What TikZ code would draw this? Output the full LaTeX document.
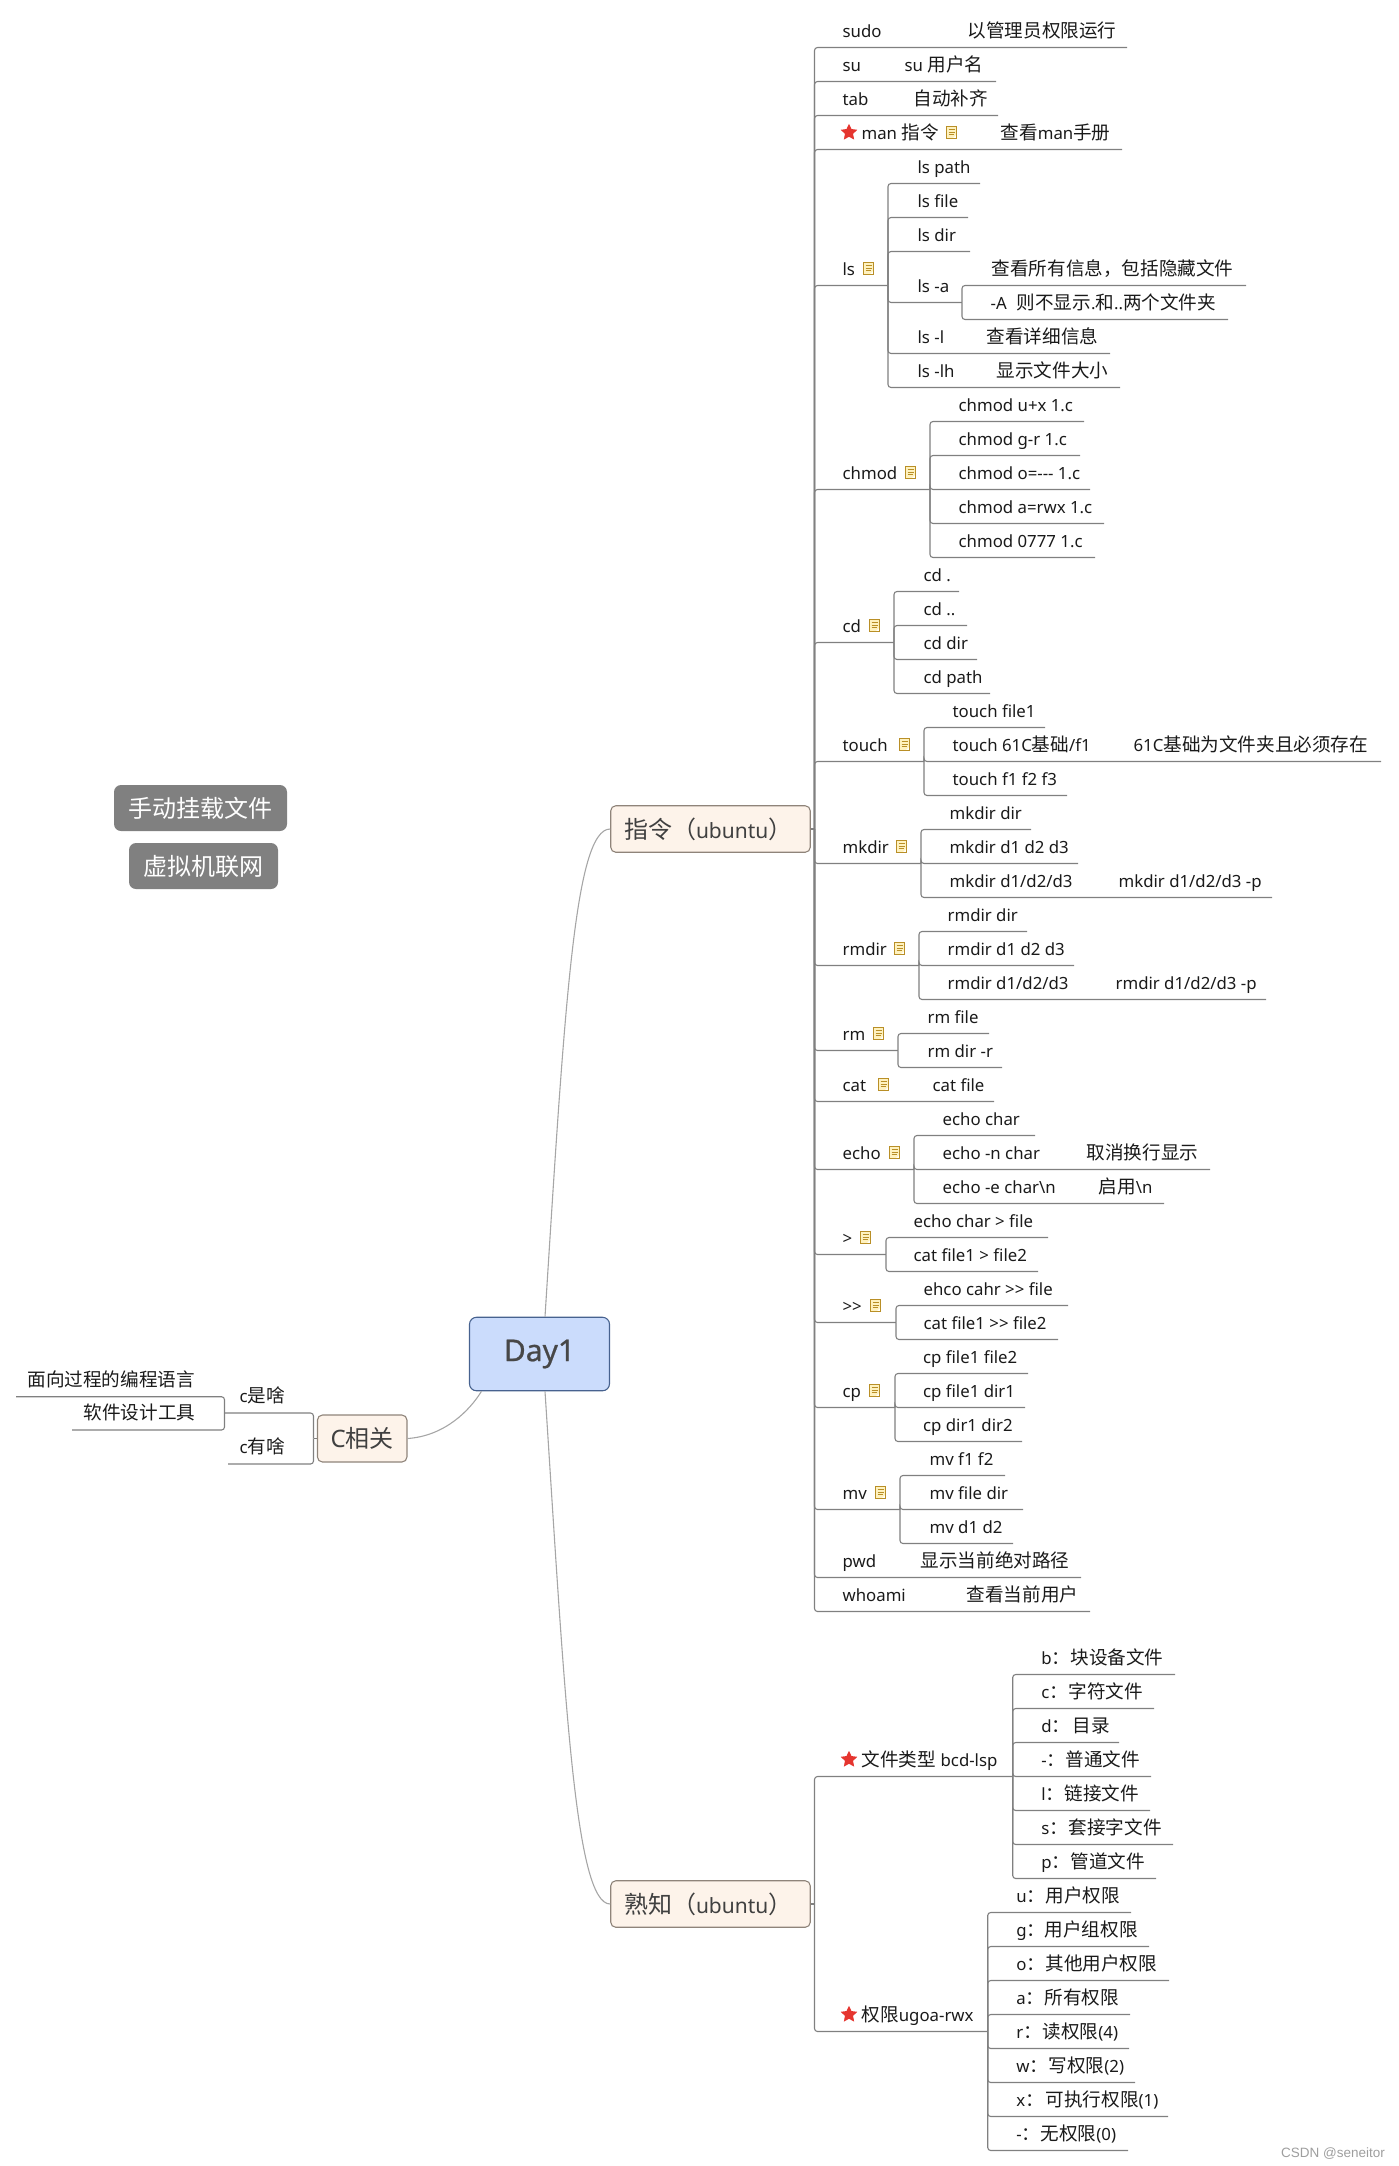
\documentclass[tikz,border=0pt]{standalone}
\usepackage{fontspec}
\usetikzlibrary{shapes.geometric}
\setmainfont{Noto Sans}
\newfontfamily\cjf{Noto Sans CJK SC}
\newfontfamily\wmf{Liberation Sans}
\newfontfamily\dayf[FakeBold=0.7]{Noto Sans}
\newcommand\cj[1]{{\cjf\fontsize{18.6}{20}\selectfont #1}}
\newcommand\cjB[1]{{\cjf\fontsize{24}{26}\selectfont #1}}
\newcommand\tb[2]{\makebox[#1pt][l]{#2}}
\definecolor{lineg}{HTML}{808080}
\definecolor{curveg}{HTML}{A6A6A6}
\definecolor{txt}{HTML}{1A1A1A}
\definecolor{dayfill}{HTML}{CBDCFC}
\definecolor{dayedge}{HTML}{47628F}
\definecolor{mainfill}{HTML}{FDF3EA}
\definecolor{mainedge}{HTML}{8F847A}
\definecolor{noteedge}{HTML}{B98F27}
\definecolor{notefill}{HTML}{FFF2BF}
\definecolor{starred}{HTML}{E5352F}
\tikzset{
  conn/.style={draw=lineg,line width=1.1pt,rounded corners=3pt},
  curveln/.style={draw=curveg,line width=1.1pt},
  lbl/.style={anchor=base west,inner sep=0pt,outer sep=0pt,text=txt,font=\fontsize{16.8}{20}\selectfont},
  central/.style={draw=dayedge,fill=dayfill,rounded corners=7pt,line width=1.1pt,inner sep=0pt,text=black!72,font=\dayf\fontsize{30}{32}\selectfont},
  mainb/.style={draw=mainedge,fill=mainfill,rounded corners=5pt,line width=1.1pt,inner sep=0pt,text=black!75,font=\fontsize{21}{26}\selectfont},
  floatb/.style={fill=black!50,rounded corners=7pt,inner sep=0pt,text=white},
  starn/.style={star,star points=5,star point ratio=2.05,fill=starred,minimum size=17.5pt,inner sep=0pt},
  noteic/.style={draw=noteedge,fill=notefill,line width=1.4pt,minimum width=10pt,minimum height=12pt,inner sep=0pt,
    path picture={
      \draw[noteedge,line width=1pt]
        ([xshift=2pt,yshift=-3pt]path picture bounding box.north west) -- ([xshift=-2pt,yshift=-3pt]path picture bounding box.north east)
        ([xshift=2pt,yshift=-5.5pt]path picture bounding box.north west) -- ([xshift=-2pt,yshift=-5.5pt]path picture bounding box.north east)
        ([xshift=2pt,yshift=-8pt]path picture bounding box.north west) -- ([xshift=-3pt,yshift=-8pt]path picture bounding box.north east);
      \fill[white] (path picture bounding box.south east) -- ([xshift=-4pt]path picture bounding box.south east) -- ([yshift=4pt]path picture bounding box.south east) -- cycle;
    }},
}
% parent, name, x of text, y of line, x of line end, text
\newcommand\ch[6]{%
  \node[lbl] (#2) at (#3+0.6,#4-10.4) {#6};
  \coordinate (#2-e) at (#5,#4);
  \draw[conn] (#1-e) |- (#2-e);}
\newcommand\ic[3]{\node[noteic] (#1-note) at (#2+5.5,#3-17) {};}
\newcommand\st[2]{\node[starn] (#1-star) at (849,#2-17) {};}
\begin{document}
\begin{tikzpicture}[x=1pt,y=-1pt]
\useasboundingbox (0,0) rectangle (1398,2166);
% main nodes
\node[central,minimum width=140pt,minimum height=73.5pt] (day) at (539.5,1354) {Day1};
\node[mainb,minimum width=199.5pt,minimum height=46.5pt] (zl) at (710.5,829) {\makebox[173pt][l]{\cjB{指令（}ubuntu\cjB{）}}};
\node[mainb,minimum width=199.5pt,minimum height=46.5pt] (sz) at (710.5,1904) {\makebox[173pt][l]{\cjB{熟知（}ubuntu\cjB{）}}};
\node[mainb,minimum width=89.5pt,minimum height=47pt] (cx) at (362.2,1438.5) {\fontsize{24}{26}\selectfont C\cjB{相关}};
\node[floatb,minimum width=173pt,minimum height=46pt] (f1) at (200.5,808) {\cjB{手动挂载文件}};
\node[floatb,minimum width=149pt,minimum height=46pt] (f2) at (203.5,866) {\cjB{虚拟机联网}};
% curves
\draw[curveln] ([xshift=5.5pt]day.north) .. controls (565,1000) and (575,829) .. (zl.west);
\draw[curveln] ([xshift=5.5pt]day.south) .. controls (565,1700) and (575,1904) .. (sz.west);
\draw[curveln] (cx.east) .. controls (445,1436) and (470,1410) .. ([xshift=12.5pt]day.south west);
% C side
\coordinate (c-e) at (313.5,1438.5);
\draw[conn] (cx.west) -- (c-e);
\ch{c}{cs}{239}{1413}{224.5}{c\cj{是啥}}
\ch{c}{cy}{239}{1464}{228}{c\cj{有啥}}
\ch{cs}{cs1}{27}{1396.7}{16}{\cj{面向过程的编程语言}}
\ch{cs}{cs2}{83}{1430}{72}{\cj{软件设计工具}}
% tree 1
\coordinate (zl-e) at (814.5,829);
\draw[conn] (zl.east) -- (zl-e);
\ch{zl}{sudo}{842}{47.5}{1127}{\tb{125}{sudo}\cj{以管理员权限运行}}
\ch{zl}{su}{842}{81.5}{996}{\tb{62}{su}su \cj{用户名}}
\ch{zl}{tab}{842}{115.5}{998}{\tb{71}{tab}\cj{自动补齐}}
\st{man}{149.5}
\ch{zl}{man}{861}{149.5}{1122}{\tb{139}{\tb{40}{man}\cj{指令}}\cj{查看}man\cj{手册}}
\ic{man}{946}{149.5}
\ch{zl}{ls}{842}{285.5}{888}{ls}
\ic{ls}{863}{285.5}
\ch{ls}{ls1}{917}{183.5}{980}{ls path}
\ch{ls}{ls2}{917}{217.5}{968}{ls file}
\ch{ls}{ls3}{917}{251.5}{970}{ls dir}
\ch{ls}{lsa}{917}{302.5}{962}{ls -a}
\ch{lsa}{lsa1}{991}{285.5}{1246}{\cj{查看所有信息，包括隐藏文件}}
\ch{lsa}{lsa2}{990}{319.5}{1228}{\tb{26}{-A}\cj{则不显示}.\cj{和}..\cj{两个文件夹}}
\ch{ls}{lsl}{917}{353.5}{1110}{\tb{69}{ls -l}\cj{查看详细信息}}
\ch{ls}{lslh}{917}{387.5}{1120}{\tb{79}{ls -lh}\cj{显示文件大小}}
\ch{zl}{chm}{842}{489.5}{930}{chmod}
\ic{chm}{905}{489.5}
\ch{chm}{chm1}{958}{421.5}{1084}{chmod u+x 1.c}
\ch{chm}{chm2}{958}{455.5}{1080}{chmod g-r 1.c}
\ch{chm}{chm3}{958}{489.5}{1090}{chmod o=-\kern0pt-\kern0pt- 1.c}
\ch{chm}{chm4}{958}{523.5}{1104}{chmod a=rwx 1.c}
\ch{chm}{chm5}{958}{557.5}{1095}{chmod 0777 1.c}
\ch{zl}{cd}{842}{642.5}{894}{cd}
\ic{cd}{869}{642.5}
\ch{cd}{cd1}{923}{591.5}{959}{cd .}
\ch{cd}{cd2}{923}{625.5}{967}{cd ..}
\ch{cd}{cd3}{923}{659.5}{977}{cd dir}
\ch{cd}{cd4}{923}{693.5}{990}{cd path}
\ch{zl}{tch}{842}{761.5}{924}{touch}
\ic{tch}{899}{761.5}
\ch{tch}{tch1}{952}{727.5}{1045}{touch file1}
\ch{tch}{tch2}{952}{761.5}{1381}{\tb{181}{touch 61C\cj{基础}/f1}61C\cj{基础为文件夹且必须存在}}
\ch{tch}{tch3}{952}{795.5}{1067}{touch f1 f2 f3}
\ch{zl}{mkd}{842}{863.5}{921}{mkdir}
\ic{mkd}{896}{863.5}
\ch{mkd}{mkd1}{949}{829.5}{1031}{mkdir dir}
\ch{mkd}{mkd2}{949}{863.5}{1078}{mkdir d1 d2 d3}
\ch{mkd}{mkd3}{949}{897.5}{1272}{\tb{169}{mkdir d1/d2/d3}mkdir d1/d2/d3 -p}
\ch{zl}{rmd}{842}{965.5}{919}{rmdir}
\ic{rmd}{894}{965.5}
\ch{rmd}{rmd1}{947}{931.5}{1027}{rmdir dir}
\ch{rmd}{rmd2}{947}{965.5}{1074}{rmdir d1 d2 d3}
\ch{rmd}{rmd3}{947}{999.5}{1266}{\tb{168}{rmdir d1/d2/d3}rmdir d1/d2/d3 -p}
\ch{zl}{rm}{842}{1050.5}{898}{rm}
\ic{rm}{873}{1050.5}
\ch{rm}{rm1}{927}{1033.5}{989}{rm file}
\ch{rm}{rm2}{927}{1067.5}{1002}{rm dir -r}
\ch{zl}{cat}{842}{1101.5}{994}{\tb{90}{cat}cat file}
\ic{cat}{878}{1101.5}
\ch{zl}{ech}{842}{1169.5}{914}{echo}
\ic{ech}{889}{1169.5}
\ch{ech}{ech1}{942}{1135.5}{1035}{echo char}
\ch{ech}{ech2}{942}{1169.5}{1210}{\tb{144}{echo -n char}\cj{取消换行显示}}
\ch{ech}{ech3}{942}{1203.5}{1164}{\tb{156}{echo -e char\textbackslash n}\cj{启用}\textbackslash n}
\ch{zl}{gt}{842}{1254.5}{886}{>}
\ic{gt}{860}{1254.5}
\ch{gt}{gt1}{913}{1237.5}{1048}{echo char > file}
\ch{gt}{gt2}{913}{1271.5}{1038}{cat file1 > file2}
\ch{zl}{gg}{842}{1322.5}{896}{>\kern0pt>}
\ic{gg}{870}{1322.5}
\ch{gg}{gg1}{923}{1305.5}{1068}{ehco cahr >\kern0pt> file}
\ch{gg}{gg2}{923}{1339.5}{1058}{cat file1 >\kern0pt> file2}
\ch{zl}{cp}{842}{1407.5}{895}{cp}
\ic{cp}{869}{1407.5}
\ch{cp}{cp1}{922.5}{1373.5}{1028}{cp file1 file2}
\ch{cp}{cp2}{922.5}{1407.5}{1025}{cp file1 dir1}
\ch{cp}{cp3}{922.5}{1441.5}{1022}{cp dir1 dir2}
\ch{zl}{mv}{842}{1509.5}{900}{mv}
\ic{mv}{875}{1509.5}
\ch{mv}{mv1}{929}{1475.5}{1005}{mv f1 f2}
\ch{mv}{mv2}{929}{1509.5}{1023}{mv file dir}
\ch{mv}{mv3}{929}{1543.5}{1013}{mv d1 d2}
\ch{zl}{pwd}{842}{1577.5}{1081}{\tb{78}{pwd}\cj{显示当前绝对路径}}
\ch{zl}{who}{842}{1611.5}{1090}{\tb{124}{whoami}\cj{查看当前用户}}
% tree 2
\coordinate (sz-e) at (814.5,1904);
\draw[conn] (sz.east) -- (sz-e);
\st{ft}{1776.5}
\ch{sz}{ft}{861}{1776.5}{1012.7}{\tb{79}{\cj{文件类型}}bcd-lsp}
\ch{ft}{ft1}{1040.7}{1674.5}{1175}{\tb{29.3}{b\cj{：}}\cj{块设备文件}}
\ch{ft}{ft2}{1040.7}{1708.5}{1154}{\tb{27.3}{c\cj{：}}\cj{字符文件}}
\ch{ft}{ft3}{1040.7}{1742.5}{1119}{\tb{31.3}{d\cj{：}}\cj{目录}}
\ch{ft}{ft4}{1040.7}{1776.5}{1151}{\tb{24.3}{-\cj{：}}\cj{普通文件}}
\ch{ft}{ft5}{1040.7}{1810.5}{1150}{\tb{23.3}{l\cj{：}}\cj{链接文件}}
\ch{ft}{ft6}{1040.7}{1844.5}{1173}{\tb{27.3}{s\cj{：}}\cj{套接字文件}}
\ch{ft}{ft7}{1040.7}{1878.5}{1156}{\tb{29.3}{p\cj{：}}\cj{管道文件}}
\st{pm}{2031.5}
\ch{sz}{pm}{861}{2031.5}{987.7}{\cj{权限}ugoa-rwx}
\ch{pm}{pm1}{1015.7}{1912.5}{1131}{\tb{29.3}{u\cj{：}}\cj{用户权限}}
\ch{pm}{pm2}{1015.7}{1946.5}{1149}{\tb{28.3}{g\cj{：}}\cj{用户组权限}}
\ch{pm}{pm3}{1015.7}{1980.5}{1169}{\tb{29.3}{o\cj{：}}\cj{其他用户权限}}
\ch{pm}{pm4}{1015.7}{2014.5}{1130}{\tb{28.3}{a\cj{：}}\cj{所有权限}}
\ch{pm}{pm5}{1015.7}{2048.5}{1129}{\tb{26.3}{r\cj{：}}\cj{读权限}(4)}
\ch{pm}{pm6}{1015.7}{2082.5}{1135}{\tb{32.3}{w\cj{：}}\cj{写权限}(2)}
\ch{pm}{pm7}{1015.7}{2116.5}{1168}{\tb{29.3}{x\cj{：}}\cj{可执行权限}(1)}
\ch{pm}{pm8}{1015.7}{2150.5}{1128}{\tb{24.3}{-\cj{：}}\cj{无权限}(0)}
% watermark
\node[anchor=base west,inner sep=0pt,text=black!38,font=\wmf\fontsize{13.5}{15}\selectfont] (wm) at (1281,2157) {CSDN @seneitor};
\end{tikzpicture}
\end{document}
